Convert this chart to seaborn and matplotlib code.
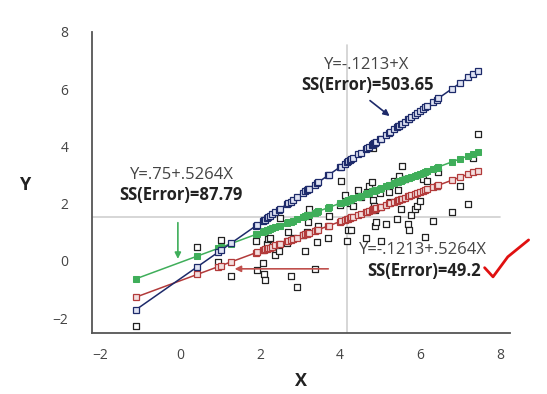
import matplotlib
matplotlib.use("Agg")
import matplotlib.pyplot as plt
import numpy as np
import pandas as pd
import seaborn as sns

x_obs = [-1.10, 0.44, 0.95, 1.02, 1.28, 1.90, 1.94, 2.07, 2.10, 2.12,
         2.17, 2.20, 2.25, 2.31, 2.39, 2.48, 2.50, 2.67, 2.71, 2.77,
         2.83, 2.93, 3.07, 3.14, 3.19, 3.21, 3.23, 3.37, 3.44, 3.46,
         3.71, 3.73, 4.00, 4.02, 4.12, 4.19, 4.21, 4.29, 4.25, 4.33,
         4.46, 4.52, 4.65, 4.67, 4.73, 4.81, 4.83, 4.84, 4.85, 4.87,
         4.88, 4.90, 5.00, 5.02, 5.15, 5.23, 5.25, 5.35, 5.42, 5.46,
         5.48, 5.54, 5.56, 5.62, 5.71, 5.72, 5.79, 5.87, 5.92, 6.00,
         6.07, 6.14, 6.18, 6.33, 6.42, 6.46, 6.81, 7.00, 7.21, 7.33,
         7.45]
y_obs = [-2.27, 0.50, -0.05, 0.73, -0.52, 0.70, -0.31, -0.08, -0.47, -0.66,
         0.59, 0.76, 0.79, 0.47, 0.19, 0.35, 1.49, 0.62, 0.99, -0.54,
         0.79, -0.92, 0.91, 0.36, 0.99, 1.37, 1.80, -0.29, 0.65, 1.20,
         0.79, 1.58, 1.96, 2.80, 2.31, 0.68, 1.06, 1.06, 2.02, 1.92,
         2.48, 2.23, 0.79, 2.39, 2.60, 2.77, 3.95, 2.13, 1.92, 1.78,
         1.20, 1.37, 2.37, 0.70, 1.29, 2.39, 2.04, 2.80, 1.46, 2.48,
         2.97, 1.81, 3.30, 2.86, 1.29, 1.06, 1.61, 1.81, 1.92, 2.10,
         2.86, 0.85, 2.80, 1.39, 2.62, 3.09, 1.69, 2.60, 1.99, 3.61,
         4.43]

# fitted lines as drawn on the picture (intercept, slope)
fit_blue = (-0.635, 0.977)
fit_green = (-0.06, 0.517)
fit_red = (-0.70, 0.517)

mean_x = 4.17
mean_y = 1.54

navy = "#1d2a6a"
green = "#3fae5a"
red = "#b23a3a"

df = pd.DataFrame({"x": x_obs, "y": y_obs})
xs = np.array(x_obs)
df["blue"] = fit_blue[0] + fit_blue[1] * xs
df["green"] = fit_green[0] + fit_green[1] * xs
df["red"] = fit_red[0] + fit_red[1] * xs

sns.set_style("white")
plt.rcParams["font.family"] = ["Open Sans", "DejaVu Sans"]

fig = plt.figure(figsize=(5.47, 3.94), dpi=100)
ax = fig.add_axes([0.168, 0.155, 0.764, 0.764])

# mean lines
ax.plot([-2.2, 8.0], [mean_y, mean_y], color="#cfcfcf", lw=1.2, zorder=1)
ax.plot([mean_x, mean_x], [-2.52, 7.55], color="#cfcfcf", lw=1.2, zorder=1)

sns.scatterplot(data=df, x="x", y="y", ax=ax, marker="s", s=14,
                facecolor="white", edgecolor="#222222", linewidth=0.9, zorder=3)

sns.lineplot(data=df, x="x", y="red", ax=ax, color=red, lw=1.1, marker="s",
             markersize=4, markerfacecolor="#f3dede", markeredgecolor=red,
             markeredgewidth=0.9, estimator=None, zorder=4)
sns.lineplot(data=df, x="x", y="green", ax=ax, color=green, lw=1.1, marker="s",
             markersize=4, markerfacecolor=green, markeredgecolor=green,
             estimator=None, zorder=4)
sns.lineplot(data=df, x="x", y="blue", ax=ax, color=navy, lw=1.1, marker="s",
             markersize=4, markerfacecolor="#dfe3f3", markeredgecolor=navy,
             markeredgewidth=0.9, estimator=None, zorder=4)

ax.set_xlim(-2.2, 8.25)
ax.set_ylim(-2.52, 8.0)
ax.set_xticks([-2, 0, 2, 4, 6, 8])
ax.set_yticks([-2, 0, 2, 4, 6, 8])
ax.tick_params(length=0, labelsize=10, labelcolor="#444444")
ax.tick_params(axis="y", pad=17)
ax.tick_params(axis="x", pad=11)
sns.despine(ax=ax)
for side in ["left", "bottom"]:
    ax.spines[side].set_color("#555555")
    ax.spines[side].set_linewidth(1.3)

ax.set_xlabel("X", fontsize=13, fontweight="bold", color="#222222", labelpad=6)
ax.set_ylabel("Y", fontsize=13, fontweight="bold", color="#222222",
              rotation=0, va="center", ha="center")
ax.yaxis.set_label_coords(-0.16, 0.49)

# equations
ax.text(4.68, 6.85, "Y=-.1213+X", ha="center", va="center", fontsize=12, color="#444444")
ax.text(4.68, 6.15, "SS(Error)=503.65", ha="center", va="center", fontsize=12,
        fontweight="bold", color="#222222")
ax.annotate("", xy=(5.3, 5.0), xytext=(4.7, 5.66),
            arrowprops=dict(arrowstyle="-|>", color=navy, lw=1.2, mutation_scale=9))

ax.text(0.04, 3.0, "Y=.75+.5264X", ha="center", va="center", fontsize=12, color="#444444")
ax.text(0.03, 2.31, "SS(Error)=87.79", ha="center", va="center", fontsize=12,
        fontweight="bold", color="#222222")
ax.annotate("", xy=(-0.05, -0.03), xytext=(-0.05, 1.43),
            arrowprops=dict(arrowstyle="-|>", color=green, lw=1.2, mutation_scale=9))

ax.text(6.09, 0.38, "Y=-.1213+.5264X", ha="center", va="center", fontsize=12, color="#444444")
ax.text(6.11, -0.35, "SS(Error)=49.2", ha="center", va="center", fontsize=12,
        fontweight="bold", color="#222222")
ax.annotate("", xy=(1.3, -0.28), xytext=(3.78, -0.28),
            arrowprops=dict(arrowstyle="-|>", color="#c0504d", lw=1.2, mutation_scale=9))

# check mark
ax.plot([7.62, 7.83, 8.2, 8.72], [-0.24, -0.56, 0.14, 0.73], color="#e01010",
        lw=2.0, solid_capstyle="round", solid_joinstyle="round", clip_on=False, zorder=5)

fig.savefig("out.png", dpi=100)
